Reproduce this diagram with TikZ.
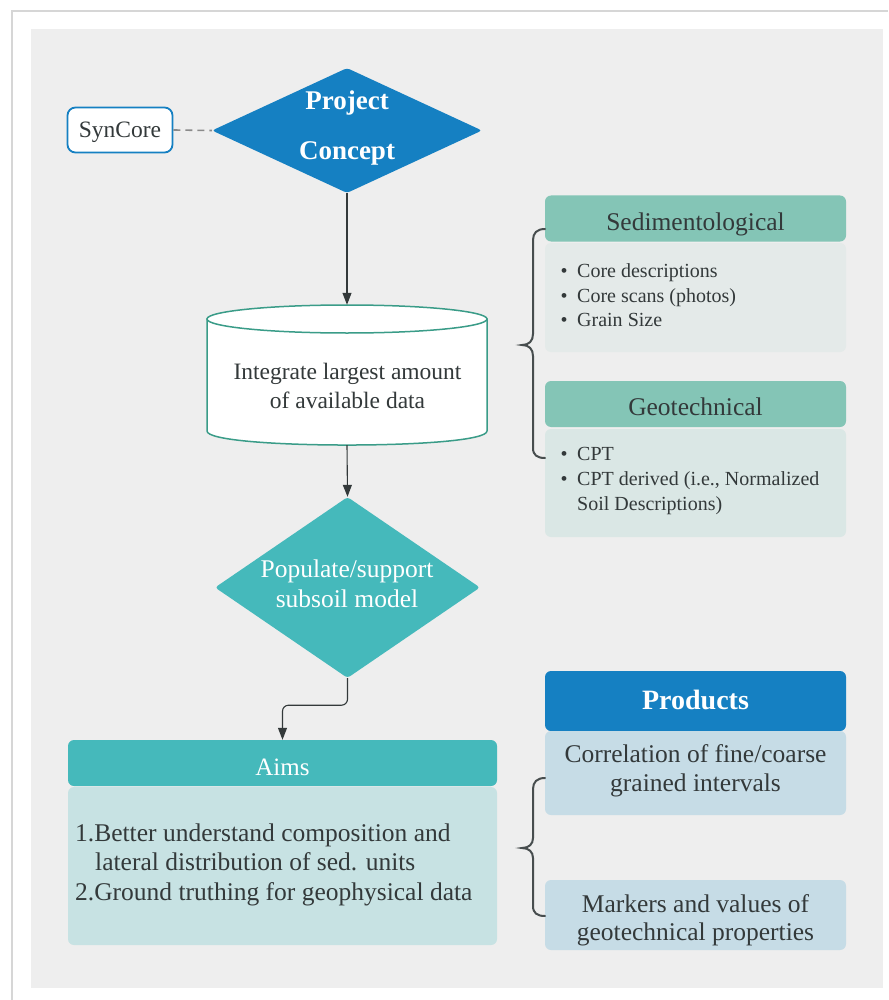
\documentclass[tikz,border=0pt]{standalone}
\usepackage{fontspec}
\setmainfont{Liberation Serif}
\usetikzlibrary{shapes.geometric,arrows.meta,calc}

\definecolor{panel}{HTML}{EEEEEE}
\definecolor{cardedge}{HTML}{D6D6D6}
\definecolor{pblue}{HTML}{1580C2}
\definecolor{pteal}{HTML}{45B9BB}
\definecolor{sage}{HTML}{84C5B6}
\definecolor{sedbody}{HTML}{E4EAE9}
\definecolor{geobody}{HTML}{DAE7E5}
\definecolor{aimbody}{HTML}{C7E2E3}
\definecolor{prodbody}{HTML}{C6DCE6}
\definecolor{cylline}{HTML}{3A9C88}
\definecolor{ink}{HTML}{33393A}
\definecolor{dashgray}{HTML}{8A8A8A}

\tikzset{
  box/.style={rectangle, rounded corners=6pt, inner sep=0pt},
  dia/.style={shape=diamond, rounded corners=3pt, inner sep=0pt},
  conn/.style={draw=ink, line width=1.1pt, -{Triangle[width=9pt,length=12pt]}},
  bracepath/.style={draw=ink!90, line width=2pt, line cap=round},
  % one line of text, placed on its baseline
  ln/.style={inner sep=0pt, anchor=base, text=ink},
  lnw/.style={inner sep=0pt, anchor=base west, text=ink},
  fhead/.style={font=\fontsize{25.5}{30}\selectfont},
  fbody/.style={font=\fontsize{25.5}{30}\selectfont},
  flist/.style={font=\fontsize{20}{24}\selectfont},
}

\begin{document}
\begin{tikzpicture}[x=1pt,y=-1pt]
\useasboundingbox (0,0) rectangle (888,1000);
% card and panel
\fill[white] (0,0) rectangle (888,1000);
\draw[cardedge, line width=2pt] (12,1000) -- (12,11) -- (888,11);
\fill[panel] (31,29) rectangle (883,988);

% ---- project concept and its source
\node[dia, fill=pblue, minimum width=270pt, minimum height=125pt] (pc) at (347,130.5) {};
\node[ln, text=white, font=\fontsize{27}{30}\selectfont\bfseries] (pc1) at (347,110) {Project};
\node[ln, text=white, font=\fontsize{27}{30}\selectfont\bfseries] (pc2) at (347,159.5) {Concept};
\node[rectangle, rounded corners=8pt, draw=pblue, line width=1.8pt, fill=white,
      minimum width=105pt, minimum height=45pt, inner sep=0pt] (sc) at (120,130) {};
\node[ln, font=\fontsize{23.5}{28}\selectfont] (sct) at (120,137.5) {SynCore};
\draw[dashgray, line width=1.6pt, dash pattern=on 7pt off 5pt] (sc.east) -- (pc.west);

% ---- data store (cylinder)
\node[rectangle, minimum width=280pt, minimum height=140pt, inner sep=0pt] (cyl) at (347,375) {};
\draw[cylline, line width=1.5pt, fill=white]
  (207,319) -- (207,431) .. controls (207,449.7) and (487,449.7) .. (487,431) -- (487,319) -- cycle;
\draw[cylline, line width=1.5pt, fill=white] (347,319) ellipse [x radius=140, y radius=14];
\node[ln, font=\fontsize{23.5}{28}\selectfont] (cy1) at (347.5,379) {Integrate largest amount};
\node[ln, font=\fontsize{23.5}{28}\selectfont] (cy2) at (347.5,408) {of available data};

% ---- model
\node[dia, fill=pteal, minimum width=265pt, minimum height=181pt] (ps) at (347.5,587.5) {};
\node[ln, text=white, fbody] (ps1) at (347,577) {Populate/support};
\node[ln, text=white, fbody] (ps2) at (347,607) {subsoil model};

\draw[conn] (pc.south) -- (cyl.north);
\draw[conn] (cyl.south) -- (ps.north);

% ---- aims
\node[box, fill=pteal, minimum width=429pt, minimum height=46pt] (aimh) at (282.5,763) {};
\node[ln, text=white, font=\fontsize{25}{30}\selectfont] (aimht) at (282.5,775) {Aims};
\node[box, fill=aimbody, minimum width=429pt, minimum height=158pt] (aimb) at (282.5,866) {};
\node[lnw, fbody] (aim1) at (75,841) {1.Better understand composition and};
\node[lnw, fbody] (aim2) at (95,870.5) {lateral distribution of sed. units};
\node[lnw, fbody] (aim3) at (75,900) {2.Ground truthing for geophysical data};
\draw[conn, rounded corners=6pt] (ps.south) -- ++(0,27) -| (aimh.north);

% ---- sedimentological data
\node[box, fill=sage, minimum width=301pt, minimum height=46pt] (sedh) at (695.5,218.5) {};
\node[ln, fhead] (sedht) at (695.5,230.5) {Sedimentological};
\node[box, fill=sedbody, minimum width=301pt, minimum height=109pt] (sedb) at (695.5,297.5) {};
\foreach \y/\t [count=\i] in {277/Core descriptions, 302/Core scans (photos), 326/Grain Size}{
  \node[ln, flist] (sedbul\i) at (564,\y) {\textbullet};
  \node[lnw, flist] (sedt\i) at (577,\y) {\t};
}

% ---- geotechnical data
\node[box, fill=sage, minimum width=301pt, minimum height=46pt] (geoh) at (695.5,404) {};
\node[ln, fhead] (geoht) at (695.5,415) {Geotechnical};
\node[box, fill=geobody, minimum width=301pt, minimum height=108pt] (geob) at (695.5,483) {};
\node[ln, flist] (geobul1) at (564,460) {\textbullet};
\node[lnw, flist] (geot1) at (577,460) {CPT};
\node[ln, flist] (geobul2) at (564,485.5) {\textbullet};
\node[lnw, flist] (geot2) at (577,485.5) {CPT derived (i.e., Normalized};
\node[lnw, flist] (geot3) at (577,510) {Soil Descriptions)};

\draw[bracepath] (545,229) .. controls (537,229) and (533,233) .. (533,240) -- (533,334)
  .. controls (533,341) and (529,345) .. (522,345)
  .. controls (529,345) and (533,349) .. (533,356) -- (533,448)
  .. controls (533,455) and (537,458) .. (545,458);

% ---- products
\node[box, fill=pblue, minimum width=301pt, minimum height=60pt] (prh) at (695.5,701) {};
\node[ln, text=white, font=\fontsize{28}{32}\selectfont\bfseries] (prht) at (695.5,709) {Products};
\node[box, fill=prodbody, minimum width=301pt, minimum height=84pt] (pr1) at (695.5,773) {};
\node[ln, fbody] (pr1a) at (695.5,762) {Correlation of fine/coarse};
\node[ln, fbody] (pr1b) at (695.5,791.5) {grained intervals};
\node[box, fill=prodbody, minimum width=301pt, minimum height=70pt] (pr2) at (695.5,915) {};
\node[ln, fbody] (pr2a) at (695.5,912) {Markers and values of};
\node[ln, fbody] (pr2b) at (695.5,940.5) {geotechnical properties};

\draw[bracepath] (545,778) .. controls (537,778) and (533,782) .. (533,789) -- (533,838)
  .. controls (533,844) and (529,848) .. (522,848)
  .. controls (529,848) and (533,852) .. (533,858) -- (533,906)
  .. controls (533,913) and (537,916) .. (545,916);
\end{tikzpicture}
\end{document}
